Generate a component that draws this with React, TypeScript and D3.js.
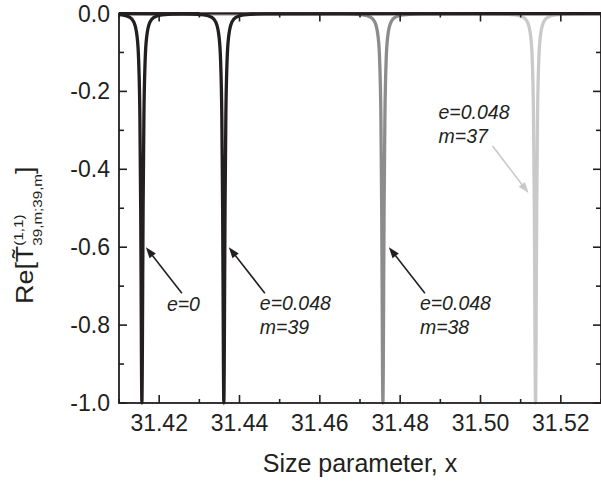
import { useEffect, useRef } from 'react'
import * as d3 from 'd3'

// resonance curves (x: size parameter, y: Re T)
const e0X = [31.41, 31.4107, 31.4127, 31.4137, 31.4145, 31.4149, 31.4152, 31.4154, 31.4155, 31.4156, 31.4157, 31.4158, 31.4159, 31.416, 31.4162, 31.4165, 31.4169, 31.4177, 31.4187, 31.4207, 31.4257, 31.43]
const e0Y = [-0.0028, -0.0036, -0.0099, -0.022, -0.059, -0.123, -0.265, -0.5, -0.69, -0.9, -1.0, -0.9, -0.69, -0.5, -0.265, -0.123, -0.059, -0.022, -0.0099, -0.0036, -0.0009, -0.0006]

const m39X = [31.41, 31.4261, 31.4311, 31.4331, 31.4341, 31.4349, 31.4353, 31.4356, 31.4358, 31.4359, 31.436, 31.4361, 31.4362, 31.4363, 31.4364, 31.4366, 31.4369, 31.4373, 31.4381, 31.4391, 31.4411, 31.4461, 31.53]
const m39Y = [-0.0002, -0.0009, -0.0036, -0.0099, -0.022, -0.059, -0.123, -0.265, -0.5, -0.69, -0.9, -1.0, -0.9, -0.69, -0.5, -0.265, -0.123, -0.059, -0.022, -0.0099, -0.0036, -0.0009, -0.0002]

const m38X = [31.41, 31.4657, 31.4707, 31.4727, 31.4737, 31.4745, 31.4749, 31.4752, 31.4754, 31.4755, 31.4756, 31.4757, 31.4758, 31.4759, 31.476, 31.4762, 31.4765, 31.4769, 31.4777, 31.4787, 31.4807, 31.4857, 31.53]
const m38Y = [-0.0001, -0.0009, -0.0036, -0.0099, -0.022, -0.059, -0.123, -0.265, -0.5, -0.69, -0.9, -1.0, -0.9, -0.69, -0.5, -0.265, -0.123, -0.059, -0.022, -0.0099, -0.0036, -0.0009, -0.0003]

const m37X = [31.41, 31.5037, 31.5087, 31.5107, 31.5117, 31.5125, 31.5129, 31.5132, 31.5134, 31.5135, 31.5136, 31.5137, 31.5138, 31.5139, 31.514, 31.5142, 31.5145, 31.5149, 31.5157, 31.5167, 31.5187, 31.5237, 31.53]
const m37Y = [-0.0001, -0.0009, -0.0036, -0.0099, -0.022, -0.059, -0.123, -0.265, -0.5, -0.69, -0.9, -1.0, -0.9, -0.69, -0.5, -0.265, -0.123, -0.059, -0.022, -0.0099, -0.0036, -0.0009, -0.0006]

const xTicks = [31.42, 31.44, 31.46, 31.48, 31.5, 31.52]
const yTicks = [0, -0.2, -0.4, -0.6, -0.8, -1.0]

const INK = '#231f20'
const W = 601
const H = 483

export default function App() {
  const ref = useRef<SVGSVGElement>(null)

  useEffect(() => {
    const svg = d3.select(ref.current)
    svg.selectAll('*').remove()

    const L = 119, R = 601, T = 13.5, B = 403
    const x = d3.scaleLinear().domain([31.41, 31.53]).range([L, R])
    const y = d3.scaleLinear().domain([-1, 0]).range([B, T])
    const font = "'Liberation Sans', Arial, sans-serif"

    const plot = svg.append('g')
    const line = d3.line<[number, number]>()
      .x((d) => x(d[0]))
      .y((d) => y(d[1]))
      .curve(d3.curveMonotoneX)

    const series = [
      { xs: m37X, ys: m37Y, color: '#c9c9c9' },
      { xs: m38X, ys: m38Y, color: '#8c8c8c' },
      { xs: m39X, ys: m39Y, color: INK },
      { xs: e0X, ys: e0Y, color: INK },
    ]
    series.forEach((s) => {
      plot.append('path')
        .attr('d', line(s.xs.map((v, i) => [v, s.ys[i]] as [number, number])))
        .attr('fill', 'none')
        .attr('stroke', s.color)
        .attr('stroke-width', 3.3)
    })

    // frame with inward ticks
    const ax = svg.append('g').attr('stroke', INK).attr('stroke-width', 1.6)
    ax.append('rect').attr('x', L).attr('y', T).attr('width', R - L).attr('height', B - T).attr('fill', 'none').attr('stroke-width', 1.8)
    const xMinor = d3.range(31.41, 31.531, 0.01)
    xMinor.forEach((v) => {
      const major = xTicks.some((t) => Math.abs(t - v) < 1e-6)
      const len = major ? 8 : 4
      ax.append('line').attr('x1', x(v)).attr('x2', x(v)).attr('y1', B).attr('y2', B - len)
      ax.append('line').attr('x1', x(v)).attr('x2', x(v)).attr('y1', T).attr('y2', T + len)
    })
    d3.range(0, 11).map((i) => -i / 10).forEach((v, i) => {
      const len = i % 2 === 0 ? 8 : 5
      ax.append('line').attr('x1', L).attr('x2', L + len).attr('y1', y(v)).attr('y2', y(v))
      ax.append('line').attr('x1', R).attr('x2', R - len).attr('y1', y(v)).attr('y2', y(v))
    })

    const txt = svg.append('g').attr('font-family', font).attr('fill', INK)
    xTicks.forEach((v) => {
      txt.append('text').attr('x', x(v)).attr('y', 431).attr('text-anchor', 'middle')
        .attr('font-size', 23).text(v.toFixed(2))
    })
    yTicks.forEach((v) => {
      txt.append('text').attr('x', 110).attr('y', y(v) + 8).attr('text-anchor', 'end')
        .attr('font-size', 23).text(v.toFixed(1))
    })
    txt.append('text').attr('x', (L + R) / 2).attr('y', 472).attr('text-anchor', 'middle')
      .attr('font-size', 25).text('Size parameter, x')

    const yl = txt.append('text')
      .attr('transform', 'translate(33,304) rotate(-90) scale(1.17,1)')
      .attr('font-size', 23)
    yl.append('tspan').text('Re[T\u0303')
    yl.append('tspan').attr('font-size', 13).attr('dy', -10).text('(1,1)')
    yl.append('tspan').attr('font-size', 13).attr('dx', -26.7).attr('dy', 19).text('39,m;39,m')
    yl.append('tspan').attr('dy', -9).text(']')

    // annotations: arrow tip offsets from curve centre, label text
    const notes = [
      { cx: 31.4157, tipDx: 4, tipY: -0.6, tail: [36, 46], text: ['e=0'], tx: 21, ty: 64, color: INK },
      { cx: 31.4361, tipDx: 5, tipY: -0.6, tail: [36, 46], text: ['e=0.048', 'm=39'], tx: 31, ty: 63, color: INK },
      { cx: 31.4757, tipDx: 6, tipY: -0.6, tail: [36, 46], text: ['e=0.048', 'm=38'], tx: 31, ty: 63, color: INK },
      { cx: 31.5137, tipDx: -7, tipY: -0.461, tail: [-36, -47], text: ['e=0.048', 'm=37'], tx: -90, ty: -74, color: '#c9c9c9' },
    ]
    notes.forEach((n) => {
      const tx0 = x(n.cx) + n.tipDx
      const ty0 = y(n.tipY)
      const sx = tx0 + n.tail[0]
      const sy = ty0 + n.tail[1]
      const ang = Math.atan2(ty0 - sy, tx0 - sx)
      const hl = 11, hw = 4
      const bx = tx0 - hl * Math.cos(ang)
      const by = ty0 - hl * Math.sin(ang)
      svg.append('line').attr('x1', sx).attr('y1', sy).attr('x2', bx + 2 * Math.cos(ang)).attr('y2', by + 2 * Math.sin(ang))
        .attr('stroke', n.color).attr('stroke-width', 1.6)
      svg.append('path')
        .attr('d', `M${tx0},${ty0}L${bx - hw * Math.sin(ang)},${by + hw * Math.cos(ang)}L${bx + hw * Math.sin(ang)},${by - hw * Math.cos(ang)}Z`)
        .attr('fill', n.color)
      n.text.forEach((s, i) => {
        svg.append('text').attr('x', tx0 + n.tx).attr('y', ty0 + n.ty + i * 24)
          .attr('font-family', font).attr('font-style', 'italic').attr('font-size', 19.5)
          .attr('fill', INK).text(s)
      })
    })
  }, [])

  return (
    <svg ref={ref} width={W} height={H} viewBox={`0 0 ${W} ${H}`}
      style={{ position: 'absolute', left: 0, top: 0, background: '#fff' }} />
  )
}
